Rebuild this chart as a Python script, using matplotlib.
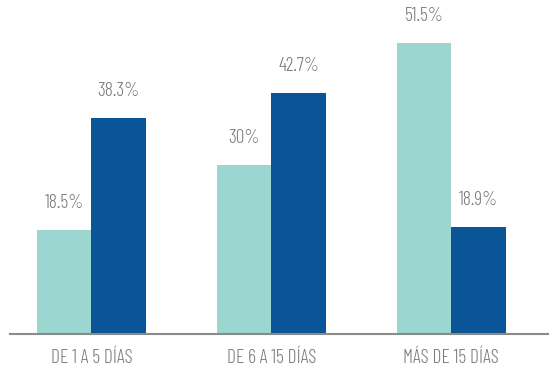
import matplotlib.pyplot as plt
import numpy as np

plt.rcParams['font.family'] = ['Barlow Condensed', 'Roboto Condensed', 'DejaVu Sans']
plt.rcParams['font.weight'] = 300

categories = ['DE 1 A 5 DÍAS', 'DE 6 A 15 DÍAS', 'MÁS DE 15 DÍAS']
serie_clara = [18.5, 30, 51.5]
serie_oscura = [38.3, 42.7, 18.9]
etiquetas_clara = ['18.5%', '30%', '51.5%']
etiquetas_oscura = ['38.3%', '42.7%', '18.9%']

fig = plt.figure(figsize=(5.49, 3.74), dpi=100)
ax = fig.add_axes([10 / 549, 40 / 374, 539 / 549, 334 / 374])

x = np.arange(len(categories))
w = 0.303
b1 = ax.bar(x - w / 2, serie_clara, w, color='#9bd7d0')
b2 = ax.bar(x + w / 2, serie_oscura, w, color='#095598')

for bars, labels in [(b1, etiquetas_clara), (b2, etiquetas_oscura)]:
    for bar, lab in zip(bars, labels):
        ax.annotate(lab, (bar.get_x() + bar.get_width() / 2, bar.get_height()),
                    xytext=(0, 13), textcoords='offset points',
                    ha='center', va='bottom', fontsize=14, color='#7a7a7a')

ax.set_xlim(-0.452, 2.543)
ax.set_ylim(0, 59.2)
ax.set_xticks(x)
ax.set_xticklabels(categories, fontsize=14, color='#7a7a7a')
ax.tick_params(axis='x', length=0, pad=11)
ax.set_yticks([])
for s in ['top', 'right', 'left']:
    ax.spines[s].set_visible(False)
ax.spines['bottom'].set_color('#8a8a8a')
ax.spines['bottom'].set_linewidth(1.5)

fig.savefig('out.png', dpi=100)
